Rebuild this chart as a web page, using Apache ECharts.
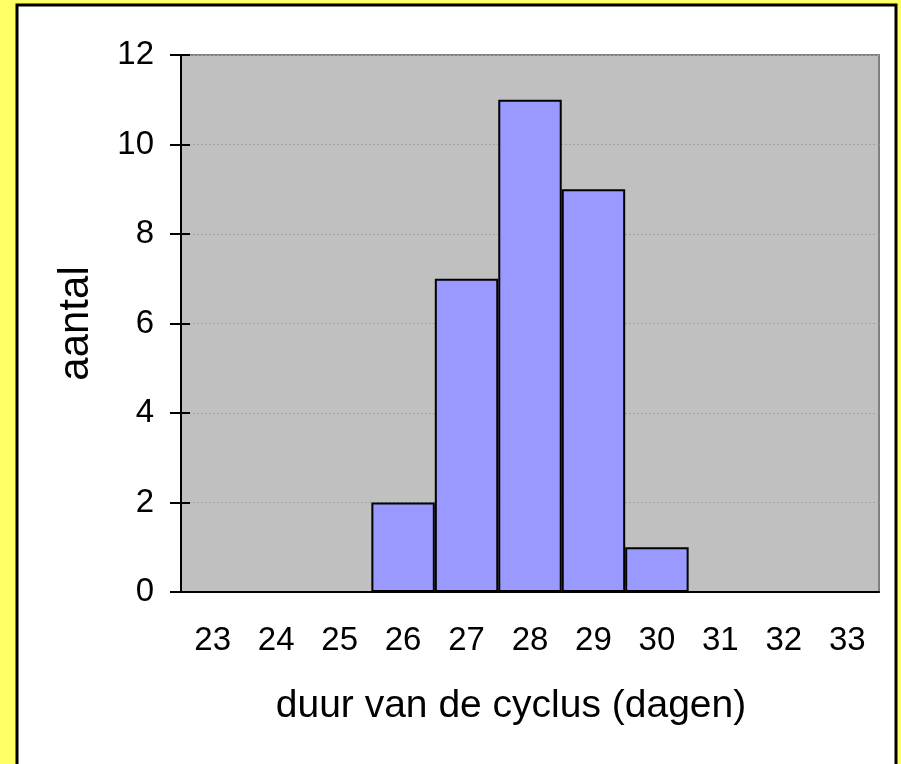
<!DOCTYPE html>
<html>
<head>
<meta charset="utf-8">
<script src="https://cdn.jsdelivr.net/npm/echarts@6/dist/echarts.min.js"></script>
<style>
    html, body { margin: 0; padding: 0; background: #ffff66; }
    #chart { width: 901px; height: 764px; }
</style>
</head>
<body>
<div id="chart"></div>
<script>
const categories = ["23", "24", "25", "26", "27", "28", "29", "30", "31", "32", "33"];
const counts = [0, 0, 0, 2, 7, 11, 9, 1, 0, 0, 0];
const yTicks = { min: 0, max: 12, interval: 2 };

const font = "Liberation Sans, Arial, sans-serif";
const chart = echarts.init(document.getElementById("chart"));

chart.setOption({
    backgroundColor: "#ffff66",
    animation: false,
    graphic: [
        {
            type: "rect",
            z: -10,
            shape: { x: 17, y: 5, width: 879, height: 780 },
            style: { fill: "#ffffff", stroke: "#000000", lineWidth: 3 },
        },
    ],
    grid: {
        left: 181,
        top: 55,
        right: 22,
        bottom: 172,
        show: true,
        backgroundColor: "#c0c0c0",
        borderColor: "#808080",
        borderWidth: 2,
    },
    xAxis: {
        type: "category",
        data: categories,
        boundaryGap: true,
        name: "duur van de cyclus (dagen)",
        nameLocation: "middle",
        nameGap: 95,
        nameTextStyle: { fontFamily: font, fontSize: 39, color: "#000", padding: [0, 38, 0, 0] },
        axisLine: { lineStyle: { color: "#000", width: 2 } },
        axisTick: { length: 11, lineStyle: { color: "#000", width: 2 } },
        axisLabel: { fontFamily: font, fontSize: 33, color: "#000", margin: 32 },
        splitLine: { show: false },
    },
    yAxis: [
        {
            type: "value",
            min: yTicks.min,
            max: yTicks.max,
            interval: yTicks.interval,
            name: "aantal",
            nameLocation: "middle",
            nameGap: 84,
            nameTextStyle: { fontFamily: font, fontSize: 42, color: "#000" },
            axisLine: { show: true, lineStyle: { color: "#000", width: 2 } },
            axisTick: { show: true, length: 11, lineStyle: { color: "#000", width: 2 } },
            axisLabel: { fontFamily: font, fontSize: 33, color: "#000", margin: 27 },
            splitLine: { lineStyle: { color: "#a0a0a0", width: 1, type: [2, 2] } },
        },
        {
            type: "value",
            position: "left",
            min: yTicks.min,
            max: yTicks.max,
            interval: yTicks.interval,
            axisLine: { show: false },
            axisTick: { show: true, inside: true, length: 9, lineStyle: { color: "#000", width: 2 } },
            axisLabel: { show: false },
            splitLine: { show: false },
        },
    ],
    series: [
        {
            type: "bar",
            data: counts,
            barWidth: "100%",
            barGap: "0%",
            itemStyle: { color: "#9999ff", borderColor: "#000", borderWidth: 2 },
        },
    ],
});
</script>
</body>
</html>
